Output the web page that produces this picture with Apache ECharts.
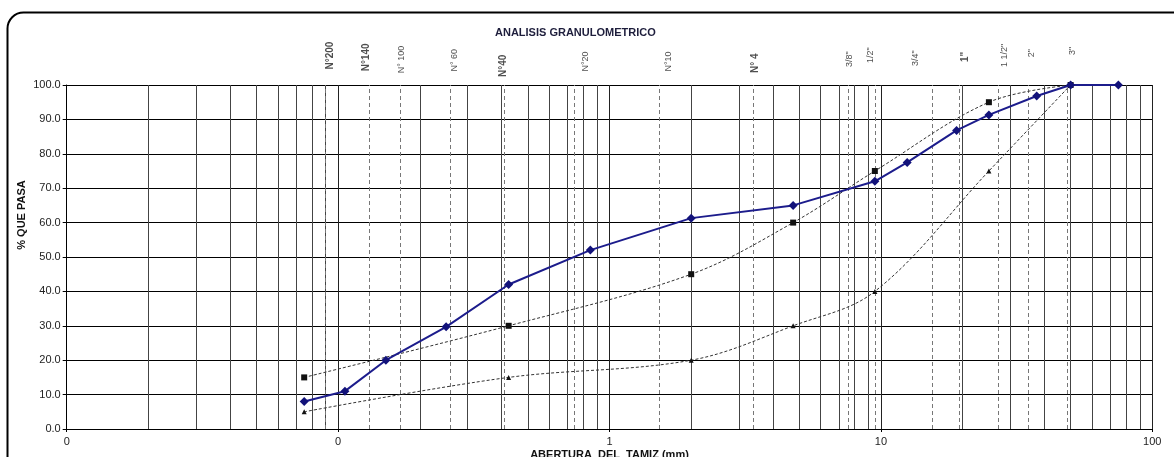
<!DOCTYPE html>
<html>
<head>
<meta charset="utf-8">
<script src="https://cdn.jsdelivr.net/npm/echarts@6/dist/echarts.min.js"></script>
<style>html,body{margin:0;padding:0;background:#fff;}#c{width:1174px;height:457px;}</style>
</head>
<body>
<div id="c"></div>
<script>
// Sieve openings (mm)
const sieveSizes = [0.075, 0.106, 0.15, 0.25, 0.425, 0.85, 2.0, 4.75, 9.5, 12.5, 19, 25, 37.5, 50, 75];
// % passing of the sample
const passing = [8, 11, 20, 29.7, 42, 52, 61.3, 65, 72, 77.5, 86.8, 91.3, 96.8, 100, 100];
// Specification limits
const limitSizes = [0.075, 0.425, 2.0, 4.75, 9.5, 25, 50];
const upperLimit = [15, 30, 45, 60, 75, 95, 100];
const lowerLimit = [5, 15, 20, 30, 40, 75, 100];
// Dashed reference lines for sieve labels (position as drawn)
const refLineX = [0.0905, 0.1255, 0.1667, 0.2572, 0.406, 0.744, 1.517, 3.385, 7.55, 9.52, 15.5, 19.5, 27.0, 35.0, 48.8];
// Sieve labels above the chart
const sieveNames = ['N°200', 'N°140', 'N° 100', 'N° 60', 'N°40', 'N°20', 'N°10', 'N° 4', '3/8"', '1/2"', '3/4"', '1"', '1 1/2"', '2"', '3"'];
const labelX = [0.0933, 0.1267, 0.1715, 0.2696, 0.405, 0.817, 1.643, 3.436, 7.63, 9.12, 13.36, 20.54, 28.6, 35.9, 51.0];
const labelY = [104.5, 104.0, 103.4, 103.9, 102.3, 103.9, 103.9, 103.5, 105.2, 106.4, 105.5, 106.7, 105.2, 108.1, 108.7];
const yTicks = [0, 10, 20, 30, 40, 50, 60, 70, 80, 90, 100];

const boldLabels = {'N°200': 1, 'N°140': 1, 'N°40': 1, 'N° 4': 1, '1"': 1};
// log-scale minor grid (2..9 within each decade)
const minorGrid = [];
[0.01, 0.1, 1, 10].forEach(d => { for (let k = 2; k <= 9; k++) minorGrid.push(+(d * k).toPrecision(3)); });

const FONT = '"Liberation Sans", Arial, sans-serif';
const chart = echarts.init(document.getElementById('c'), null, {renderer: 'canvas'});
chart.setOption({
  backgroundColor: '#fff',
  animation: false,
  title: {
    text: 'ANALISIS GRANULOMETRICO',
    left: 490, top: 22,
    textStyle: {fontFamily: FONT, fontSize: 11, fontWeight: 'bold', color: '#1e1e3c'}
  },
  graphic: [{
    type: 'rect', silent: true, z: 100,
    shape: {x: 7.5, y: 12.5, width: 1230, height: 470, r: 16},
    style: {fill: 'none', stroke: '#000', lineWidth: 2}
  }],
  grid: {left: 66.7, right: 21.7, top: 85, bottom: 28, containLabel: false, outerBoundsMode: 'none'},
  xAxis: {
    type: 'log', logBase: 10, min: 0.01, max: 100,
    name: 'ABERTURA  DEL  TAMIZ (mm)', nameLocation: 'middle', nameGap: 20, nameMoveOverlap: false,
    nameTextStyle: {fontFamily: FONT, fontSize: 11, fontWeight: 'bold', color: '#111'},
    axisLine: {show: true, lineStyle: {color: '#000', width: 1}},
    axisTick: {show: true, length: 3, lineStyle: {color: '#000'}},
    axisLabel: {fontFamily: FONT, fontSize: 11, color: '#222', margin: 7,
      formatter: v => (v < 1 ? '0' : String(Math.round(v)))},
    splitLine: {show: true, lineStyle: {color: '#222', width: 1}}
  },
  yAxis: {
    type: 'value', min: 0, max: 100, interval: 10,
    name: '% QUE PASA', nameLocation: 'middle', nameGap: 39, nameMoveOverlap: false,
    nameTextStyle: {fontFamily: FONT, fontSize: 11, fontWeight: 'bold', color: '#111', padding: [0, 0, 0, 84]},
    axisLine: {show: true, lineStyle: {color: '#000', width: 1}},
    axisTick: {show: true, length: 4, lineStyle: {color: '#000'}},
    axisLabel: {fontFamily: FONT, fontSize: 11, color: '#222', margin: 6,
      formatter: v => v.toFixed(1)},
    splitLine: {show: true, lineStyle: {color: '#000', width: 1}}
  },
  series: [
    {
      name: 'minorGrid', type: 'line', data: [], silent: true, z: 1,
      markLine: {
        silent: true, symbol: ['none', 'none'], animation: false,
        label: {show: false},
        lineStyle: {color: '#444', type: 'solid', width: 1},
        data: minorGrid.map(v => ({xAxis: v}))
      }
    },
    {
      name: 'refLines', type: 'line', data: [], silent: true, z: 2,
      markLine: {
        silent: true, symbol: ['none', 'none'], animation: false,
        label: {show: false},
        lineStyle: {color: '#777', type: [4, 3], width: 1},
        data: refLineX.map(v => ({xAxis: v}))
      }
    },
    {
      name: 'sieveLabels', type: 'scatter', symbolSize: 0, clip: false, silent: true,
      data: labelX.map((x, i) => ({value: [x, labelY[i]], name: sieveNames[i],
        label: {fontWeight: boldLabels[sieveNames[i]] ? 'bold' : 'normal',
                fontSize: boldLabels[sieveNames[i]] ? 10 : 9}})),
      label: {
        show: true, position: [0, 0], rotate: 90, align: 'left', verticalAlign: 'middle',
        fontFamily: FONT, color: '#222', formatter: p => p.name
      }
    },
    {
      name: 'Limite superior', type: 'line', smooth: 0.35, z: 5,
      data: limitSizes.map((x, i) => [x, upperLimit[i]]),
      symbol: 'rect', symbolSize: 6,
      lineStyle: {color: '#333', width: 1, type: [3, 2]},
      itemStyle: {color: '#111'}
    },
    {
      name: 'Limite inferior', type: 'line', smooth: 0.35, z: 5,
      data: limitSizes.map((x, i) => [x, lowerLimit[i]]),
      symbol: 'triangle', symbolSize: 5,
      lineStyle: {color: '#333', width: 1, type: [3, 2]},
      itemStyle: {color: '#111'}
    },
    {
      name: 'Muestra', type: 'line', z: 6,
      data: sieveSizes.map((x, i) => [x, passing[i]]),
      symbol: 'diamond', symbolSize: 9,
      lineStyle: {color: '#1c1c8c', width: 2},
      itemStyle: {color: '#12127a'}
    }
  ]
});
</script>
</body>
</html>
